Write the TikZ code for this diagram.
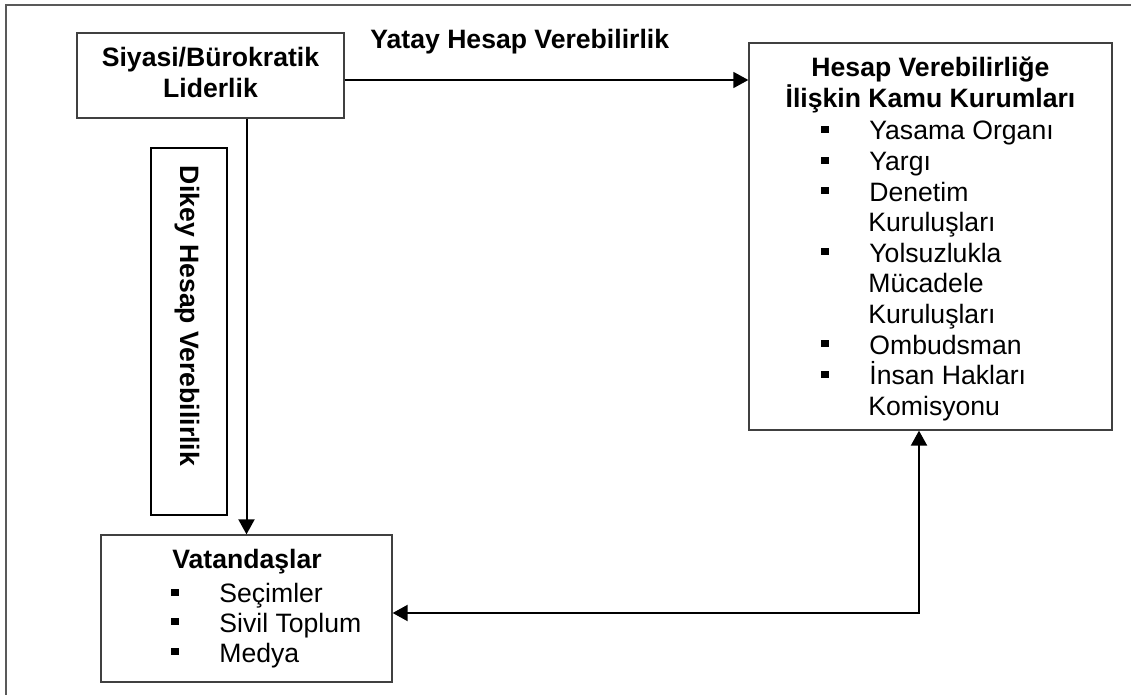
\documentclass[tikz,border=0pt]{standalone}
\usepackage{fontspec}
\setmainfont{Liberation Sans}
\usetikzlibrary{arrows.meta}
\newcommand\mybul{\rule[3.5pt]{4pt}{3.5pt}\hspace{20pt}}
\begin{document}
\begin{tikzpicture}[x=0.5pt,y=-0.5pt,
  txt/.style={font=\fontsize{13.3pt}{15.4pt}\selectfont, inner sep=0pt},
  ttl/.style={font=\fontsize{13.3pt}{15.4pt}\selectfont\bfseries, inner sep=0pt},
  box/.style={draw=black!75, line width=0.65pt, rectangle, inner sep=0pt},
  frame/.style={draw=black!65, line width=1pt},
  arr/.style={line width=1pt, -{Triangle[length=7.5pt,width=8pt]}},
  darr/.style={line width=1pt, {Triangle[length=7.5pt,width=8pt]}-{Triangle[length=7.5pt,width=8pt]}}
]
\useasboundingbox (0,0) rectangle (1131,695);
\fill[white] (0,0) rectangle (1131,695);
% outer frame (cropped)
\draw[frame] (6,700) -- (6,5) -- (1140,5);

% boxes
\node[box, minimum width=133.5pt, minimum height=42.5pt] (siyasi) at (210.5,75.5) {};
\node[box, minimum width=181.5pt, minimum height=193.5pt] (kamu) at (930.5,236.5) {};
\node[box, minimum width=145.5pt, minimum height=73.5pt] (vatandas) at (246.5,608.5) {};
\node[draw=black, line width=1pt, rectangle, inner sep=0pt, minimum width=38pt, minimum height=183.5pt] (dikeybox) at (189,331.5) {};

% Siyasi text
\node[ttl, anchor=base] (s1) at (210.5,67) {Siyasi/Bürokratik};
\node[ttl, anchor=base] (s2) at (210.5,98) {Liderlik};

% Yatay label
\node[ttl, anchor=base west] (yatay) at (370,49) {Yatay Hesap Verebilirlik};

% Dikey label
\node[ttl, rotate=-90] (dikey) at (187,316) {Dikey Hesap Verebilirlik};

% Kamu text
\node[ttl, anchor=base] (k1) at (930.5,77) {Hesap Verebilirliğe};
\node[ttl, anchor=base] (k2) at (930.5,108) {İlişkin Kamu Kurumları};
\node[txt, anchor=base west] (k3) at (821,140) {\mybul Yasama Organı};
\node[txt, anchor=base west] (k4) at (821,170.6) {\mybul Yargı};
\node[txt, anchor=base west] (k5) at (821,201.2) {\mybul Denetim};
\node[txt, anchor=base west] (k6) at (868,231.8) {Kuruluşları};
\node[txt, anchor=base west] (k7) at (821,262.4) {\mybul Yolsuzlukla};
\node[txt, anchor=base west] (k8) at (868,293) {Mücadele};
\node[txt, anchor=base west] (k9) at (868,323.6) {Kuruluşları};
\node[txt, anchor=base west] (k10) at (821,354.2) {\mybul Ombudsman};
\node[txt, anchor=base west] (k11) at (821,384.8) {\mybul İnsan Hakları};
\node[txt, anchor=base west] (k12) at (868,415.4) {Komisyonu};

% Vatandas text
\node[ttl, anchor=base west] (v1) at (172,568) {Vatandaşlar};
\node[txt, anchor=base west] (v2) at (171,602.5) {\mybul Seçimler};
\node[txt, anchor=base west] (v3) at (171,632) {\mybul Sivil Toplum};
\node[txt, anchor=base west] (v4) at (171,662) {\mybul Medya};

% connectors
\draw[arr, line width=0.8pt] ([yshift=-2.25pt]siyasi.east) -- ([yshift=-2.25pt]siyasi.east -| kamu.west);
\draw[arr] (vatandas.north |- siyasi.south) -- (vatandas.north);
\coordinate (corner) at (919,613);
\draw[darr] (vatandas.east |- corner) -- (corner) -- (corner |- kamu.south);
\end{tikzpicture}
\end{document}
